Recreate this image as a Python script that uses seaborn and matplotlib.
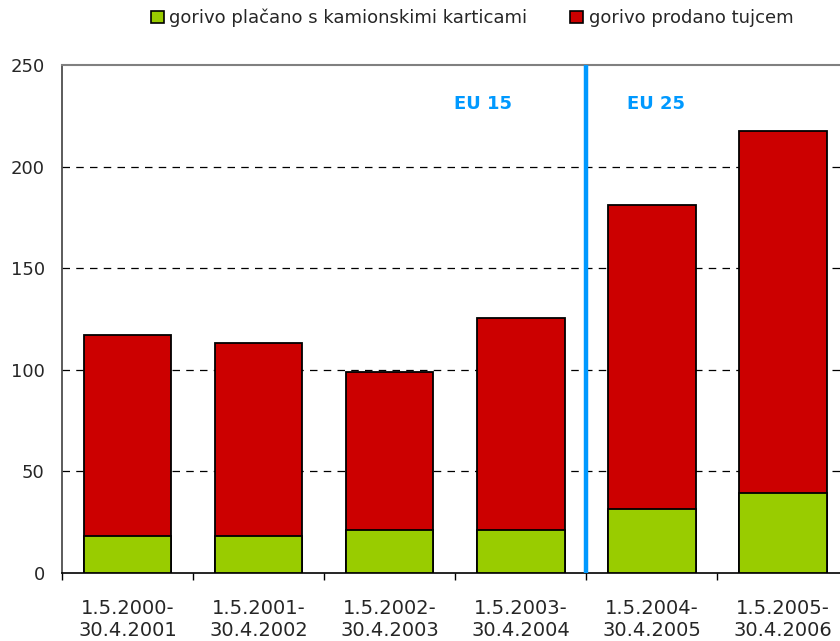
import pandas as pd
import matplotlib.pyplot as plt
from matplotlib.patches import Patch
from matplotlib.ticker import FixedLocator
import seaborn as sns

# Podatki
obdobja = ['1.5.2000-\n30.4.2001', '1.5.2001-\n30.4.2002', '1.5.2002-\n30.4.2003',
           '1.5.2003-\n30.4.2004', '1.5.2004-\n30.4.2005', '1.5.2005-\n30.4.2006']
kartice = [18, 18, 21, 21, 31.5, 39.5]
tujci = [99, 95, 78, 104.5, 149.5, 178]
skupaj = [k + t for k, t in zip(kartice, tujci)]

df = pd.DataFrame({'obdobje': obdobja, 'kartice': kartice, 'skupaj': skupaj})

sns.set_style('white')
plt.rcParams['font.family'] = ['DejaVu Sans']

zelena = '#99CC00'
rdeca = '#CC0000'
modra = '#0099FF'

fig = plt.figure(figsize=(8.4, 6.41), dpi=100)
ax = fig.add_axes([0.0738, 0.1061, 0.936, 0.7925])

# Zlozeni stolpci: najprej skupna vsota (rdeca), nato zelena na dnu
sns.barplot(data=df, x='obdobje', y='skupaj', color=rdeca, width=0.67,
            edgecolor='black', linewidth=1.3, saturation=1, ax=ax, zorder=3)
sns.barplot(data=df, x='obdobje', y='kartice', color=zelena, width=0.67,
            edgecolor='black', linewidth=1.3, saturation=1, ax=ax, zorder=4)

ax.set_xlim(-0.5, 5.5)
ax.set_ylim(0, 250)
ax.set_yticks([0, 50, 100, 150, 200, 250])
ax.set_xlabel('')
ax.set_ylabel('')

# Mreza
for y in [50, 100, 150, 200]:
    ax.axhline(y, color='black', linestyle=(0, (6, 5)), linewidth=0.9, zorder=1)

# Meja EU 15 / EU 25
ax.axvline(3.5, color=modra, linewidth=3.2, zorder=5)
ax.text(2.71, 231, 'EU 15', color=modra, fontsize=13, fontweight='bold',
        ha='center', va='center')
ax.text(4.03, 231, 'EU 25', color=modra, fontsize=13, fontweight='bold',
        ha='center', va='center')

# Osi
ax.spines['top'].set_color('#808080')
ax.spines['top'].set_linewidth(1.5)
ax.spines['left'].set_color('#404040')
ax.spines['left'].set_linewidth(1.2)
ax.spines['bottom'].set_color('black')
ax.spines['bottom'].set_linewidth(1.2)
ax.spines['right'].set_visible(False)

ax.tick_params(axis='y', length=4.5, width=1, color='#404040', pad=8, labelsize=13)
ax.tick_params(axis='x', which='major', length=0, pad=19, labelsize=14)
ax.xaxis.set_minor_locator(FixedLocator([-0.5, 0.5, 1.5, 2.5, 3.5, 4.5, 5.5]))
ax.tick_params(axis='x', which='minor', length=5, width=1, color='black', bottom=True)
for lbl in ax.get_xticklabels():
    lbl.set_linespacing(1.2)

# Legenda
rocaji = [Patch(facecolor=zelena, edgecolor='black', linewidth=1.2),
          Patch(facecolor=rdeca, edgecolor='black', linewidth=1.2)]
fig.legend(rocaji, ['gorivo plačano s kamionskimi karticami', 'gorivo prodano tujcem'],
           loc='center', bbox_to_anchor=(0.562, 0.972), ncol=2, frameon=False,
           fontsize=13, handlelength=0.7, handleheight=0.7, handletextpad=0.3,
           columnspacing=2.4)

fig.savefig('out.png', dpi=100)
